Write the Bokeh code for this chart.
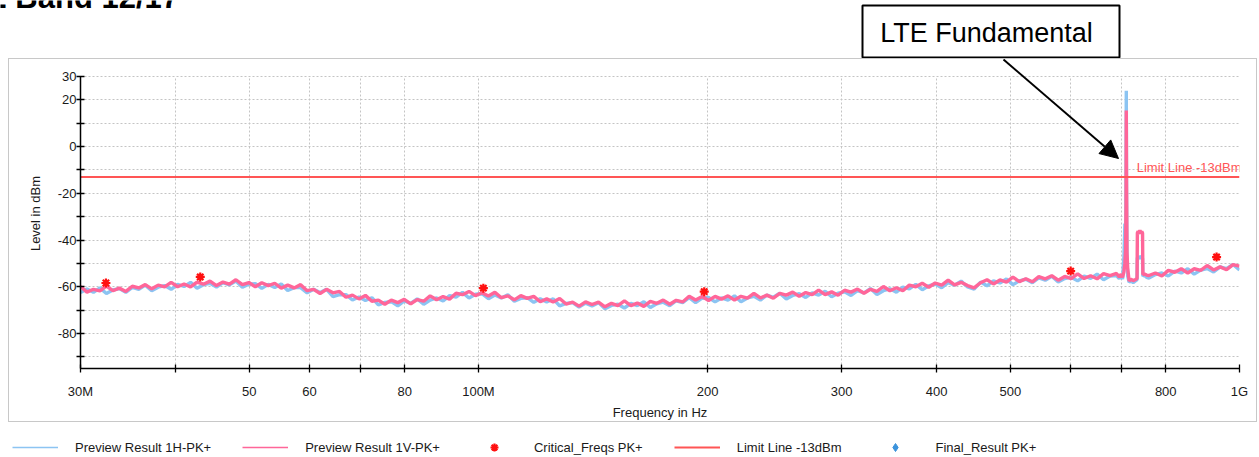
import numpy as np
from bokeh.plotting import figure
from bokeh.layouts import column
from bokeh.models import (Range1d, FixedTicker, Legend, LegendItem, Label, Span, Grid, Plot,
                          BoxAnnotation, Arrow, NormalHead, ColumnDataSource,
                          GlobalInlineStyleSheet)
from bokeh.embed import file_html
from bokeh.resources import INLINE

# ---------------- data ----------------
# sweep frequency grid (MHz) of the receiver, below and above the LTE band
sweep_lo_mhz = np.geomspace(30, 689.3, 161)
sweep_hi_mhz = np.geomspace(760.3, 1000, 15)

level_1v_lo = [
    -59.9, -62.3, -61.1, -61.8, -59.7, -61.7, -60.6, -62.0, -59.8, -60.5,
    -59.1, -60.9, -59.3, -60.1, -58.1, -60.0, -58.8, -60.1, -58.0, -58.9,
    -57.6, -59.5, -58.0, -58.9, -57.0, -59.1, -58.2, -60.0, -58.3, -59.5,
    -58.5, -60.6, -59.3, -60.5, -59.1, -61.7, -61.1, -62.9, -61.1, -62.6,
    -62.0, -64.5, -63.6, -65.2, -63.7, -66.2, -65.7, -67.5, -65.7, -66.8,
    -65.4, -67.3, -65.5, -66.2, -63.9, -65.6, -64.2, -65.3, -62.8, -63.4,
    -62.0, -63.8, -62.6, -64.0, -62.4, -64.7, -63.9, -65.6, -63.8, -65.0,
    -64.1, -66.4, -65.2, -66.5, -65.0, -67.4, -66.6, -68.3, -66.5, -67.6,
    -66.6, -68.6, -67.1, -68.1, -66.1, -68.1, -67.0, -68.4, -66.3, -67.1,
    -65.7, -67.5, -65.8, -66.5, -64.1, -65.7, -64.2, -65.9, -64.1, -65.3,
    -63.9, -65.7, -64.1, -64.9, -62.8, -64.8, -63.6, -64.9, -62.8, -63.6,
    -62.3, -64.1, -62.5, -63.4, -61.4, -63.4, -62.2, -63.6, -61.5, -62.3,
    -61.0, -62.8, -61.1, -62.0, -59.9, -61.7, -60.4, -61.7, -59.3, -60.0,
    -58.5, -60.2, -58.4, -59.3, -57.2, -59.2, -58.1, -59.5, -60.5, -58.3,
    -57.0, -58.8, -57.1, -58.0, -55.9, -57.8, -56.6, -57.9, -55.7, -56.6,
    -55.3, -57.2, -55.6, -56.5, -54.5, -56.5, -55.3, -56.6, -54.4, -55.2,
    -54.3]
level_1h_lo = [
    -62.5, -61.0, -62.4, -60.5, -62.9, -61.4, -60.8, -62.4, -60.3, -61.1,
    -59.3, -61.7, -60.2, -59.5, -61.1, -59.0, -59.9, -58.1, -60.6, -59.1,
    -58.5, -60.1, -58.2, -59.2, -57.6, -60.2, -58.9, -58.7, -60.7, -59.0,
    -60.3, -58.8, -61.6, -60.4, -60.4, -62.6, -61.1, -62.5, -61.1, -64.2,
    -63.4, -63.4, -65.7, -64.4, -65.9, -64.7, -67.8, -66.7, -66.4, -68.2,
    -66.1, -67.1, -65.2, -67.5, -65.7, -64.8, -66.1, -63.8, -64.4, -62.4,
    -64.8, -63.2, -63.0, -65.1, -63.5, -64.8, -63.4, -66.2, -65.0, -64.7,
    -66.7, -65.1, -66.5, -65.2, -68.2, -67.1, -66.8, -68.7, -67.0, -68.2,
    -66.8, -69.4, -68.0, -67.5, -69.1, -67.1, -68.1, -66.4, -68.9, -67.3,
    -66.6, -68.1, -66.0, -66.8, -64.7, -66.8, -64.9, -64.6, -66.5, -64.8,
    -65.7, -63.9, -66.4, -64.8, -64.1, -65.7, -63.6, -64.5, -62.8, -65.2,
    -63.7, -63.0, -64.6, -62.6, -63.6, -61.9, -64.3, -62.8, -62.2, -63.7,
    -61.7, -62.6, -60.8, -63.3, -61.7, -60.9, -62.3, -60.2, -60.9, -59.0,
    -61.3, -59.6, -58.8, -60.4, -58.3, -59.3, -57.6, -60.1, -61.0, -58.0,
    -59.6, -57.5, -58.4, -56.7, -59.1, -57.5, -56.8, -58.3, -56.2, -57.2,
    -55.5, -58.0, -56.5, -55.9, -57.5, -55.5, -56.4, -54.6, -57.0, -55.4,
    -55.2]

# LTE band 12/17 region (fundamental + downlink block)
peak_mhz = [695, 699, 702, 705, 707, 708.5, 709.5, 710.0, 710.5, 711.5,
            713, 716, 720, 725, 730, 733.5, 734.2, 736, 738, 740,
            742, 744, 745.8, 746.5, 750, 755]
peak_1v = [-55.8, -54.6, -56.0, -53.5, -50.0, -44.5, -25.0, 15.4, -14.5, -45.5,
           -52.0, -57.5, -56.8, -57.4, -56.9, -56.5, -37.0, -36.2, -37.4, -35.8,
           -36.9, -36.3, -37.1, -54.8, -54.5, -55.0]
peak_1h = [-56.5, -55.2, -56.8, -47.0, -33.0, -48.5, -3.0, 23.9, -20.0, -48.0,
           -55.5, -58.0, -57.6, -58.2, -57.5, -57.0, -47.8, -47.0, -48.2, -46.8,
           -47.5, -47.2, -48.0, -55.5, -55.0, -56.0]

level_1v_hi = [-55.2, -54.1, -55.4, -53.0, -53.8, -52.3, -54.1, -52.3, -53.0,
               -50.9, -52.8, -51.5, -52.7, -50.5, -51.2]
level_1h_hi = [-56.3, -54.8, -54.1, -55.4, -53.3, -54.1, -52.3, -54.6, -52.9,
               -52.2, -53.7, -51.5, -52.3, -50.5, -52.8]

crit_mhz = [32.4, 43.1, 101.5, 198, 600, 933]
crit_db = [-58.4, -55.8, -60.6, -62.1, -53.3, -47.3]

final_mhz = []
final_db = []

limit_mhz = [30, 1000]
limit_db = -13

x_ticks = [30, 40, 50, 60, 70, 80, 100, 200, 300, 400, 500, 600, 700, 800, 1000]
x_tick_labels = ["30M", "", "50", "60", "", "80", "100M", "200", "300", "400",
                 "500", "", "", "800", "1G"]
y_ticks = [-90, -80, -70, -60, -50, -40, -30, -20, -10, 0, 10, 20, 30]
y_tick_labels = ["", "-80", "", "-60", "", "-40", "", "-20", "", "0", "", "20", "30"]
y_min, y_max = -95, 30

title_text = "LTE Band 12/17"
callout_text = "LTE Fundamental"

# ---------------- page geometry ----------------
W = 1259
HEAD_H = 58          # page strip above the grey chart box
MAIN_H = 367         # grey box + x axis
LEG_H = 32           # legend row
FONT = "Liberation Sans"
FRAME_BOTTOM = 310   # y of the -95 dB line inside the main figure
px_per_db = (368 - 76) / (y_max - y_min)
y_top = y_max + (76 - HEAD_H) / px_per_db
HAS_FRAME_ALIGN = "frame_align" in Plot.properties()


def bare_figure(height, xr, yr):
    f = figure(width=W, height=height, x_range=xr, y_range=yr,
               output_backend="svg", toolbar_location=None, title=None,
               x_axis_location=None, y_axis_location=None,
               min_border_left=0, min_border_right=0, min_border_top=0,
               min_border_bottom=0, background_fill_color=None,
               border_fill_color=None, outline_line_color=None)
    f.xgrid.visible = False
    f.ygrid.visible = False
    if HAS_FRAME_ALIGN:
        f.frame_align = False
    return f


# ---------------- head strip: page title (cut) + callout ----------------
head = bare_figure(HEAD_H, Range1d(0, W), Range1d(HEAD_H, 0))
head.add_layout(Label(x=-50, y=-3, x_units="canvas", y_units="canvas",
                      text=title_text, text_font=FONT, text_font_size="31px",
                      text_font_style="bold", text_color="black",
                      text_baseline="middle"))
head.add_layout(BoxAnnotation(left=862, right=1119, top=5, bottom=57,
                              left_units="canvas", right_units="canvas",
                              top_units="canvas", bottom_units="canvas",
                              fill_color="white", fill_alpha=1,
                              line_color="black", line_alpha=1, line_width=2))
head.add_layout(Label(x=986, y=32, x_units="canvas", y_units="canvas",
                      text=callout_text, text_font=FONT, text_font_size="27px",
                      text_color="black", text_align="center",
                      text_baseline="middle"))

# ---------------- main chart ----------------
p = figure(width=W, height=MAIN_H, x_axis_type="log", title=None,
           x_range=Range1d(30, 1000), y_range=Range1d(y_min, y_top),
           output_backend="svg", toolbar_location=None,
           min_border_left=80, min_border_right=20,
           min_border_top=0, min_border_bottom=MAIN_H - FRAME_BOTTOM,
           background_fill_color=None, border_fill_color=None,
           outline_line_color=None)
if HAS_FRAME_ALIGN:
    p.frame_align = False

# grey outer box of the chart, drawn as the figure's CSS background
g = "linear-gradient(#c8c8c8, #c8c8c8)"
p.styles = {
    "background-color": "white",
    "background-image": ", ".join([g] * 4),
    "background-size": "1249px 1px, 1249px 1px, 1px 364px, 1px 364px",
    "background-position": "8px 0px, 8px 363px, 8px 0px, 1256px 0px",
    "background-repeat": "no-repeat",
}
p.stylesheets = [GlobalInlineStyleSheet(
    css="html, body { margin: 0 !important; padding: 0; overflow: hidden; background: white; }")]

xt = FixedTicker(ticks=x_ticks)
yt = FixedTicker(ticks=y_ticks)
p.xaxis.ticker = xt
p.yaxis.ticker = yt
p.xgrid.ticker = xt
p.ygrid.ticker = yt
p.yaxis.bounds = (y_min, y_max)
p.xaxis.major_label_overrides = {t: l for t, l in zip(x_ticks, x_tick_labels)}
p.yaxis.major_label_overrides = {t: l for t, l in zip(y_ticks, y_tick_labels)}

for ax in (p.xaxis, p.yaxis):
    ax.axis_line_color = "black"
    ax.axis_line_width = 1.5
    ax.major_tick_line_color = "black"
    ax.major_tick_line_width = 1.3
    ax.major_tick_in = 4
    ax.major_tick_out = 4
    ax.minor_tick_line_color = None
    ax.major_label_text_font = FONT
    ax.major_label_text_font_size = "13px"
    ax.major_label_text_color = "#1a1a1a"
    ax.axis_label_text_font = FONT
    ax.axis_label_text_font_size = "13px"
    ax.axis_label_text_font_style = "normal"
    ax.axis_label_text_color = "#1a1a1a"

p.xaxis.axis_label = "Frequency in Hz"
p.xaxis.major_label_standoff = 11
p.xaxis.axis_label_standoff = 3
p.yaxis.axis_label = "Level in dBm"
p.yaxis.major_label_standoff = 0
p.yaxis.axis_label_standoff = 12

for gr in (p.xgrid, p.ygrid):
    gr.grid_line_color = "#c4c4c4"
    gr.grid_line_dash = "2 2"
    gr.grid_line_width = 1

if "cross_bounds" in Grid.properties():
    p.xgrid.cross_bounds = (y_min, y_max)
else:
    p.add_layout(BoxAnnotation(bottom=y_max, fill_color="white", fill_alpha=1,
                               line_color=None, level="underlay"))
    p.add_layout(Span(location=0.5, location_units="canvas", dimension="width",
                      line_color="#c8c8c8", line_width=1))

freq_all = list(sweep_lo_mhz) + peak_mhz + list(sweep_hi_mhz)
src_1h = ColumnDataSource(dict(f=freq_all, v=level_1h_lo + peak_1h + level_1h_hi))
src_1v = ColumnDataSource(dict(f=freq_all, v=level_1v_lo + peak_1v + level_1v_hi))

STYLE_1H = dict(line_color="#8cc4f2")
STYLE_1V = dict(line_color="#ff6699")
STYLE_LIM = dict(line_color="#ff5555", line_width=2)
STYLE_CRIT = dict(marker="asterisk", size=9, line_color="#ff1010", line_width=2.2)
STYLE_FIN = dict(marker="diamond", size=11, fill_color="#3b93dc", line_color="#3b93dc")

p.line("f", "v", source=src_1h, line_width=3.4, **STYLE_1H)
p.line("f", "v", source=src_1v, line_width=3.4, **STYLE_1V)
p.line(limit_mhz, [limit_db, limit_db], **STYLE_LIM)
p.scatter(crit_mhz, crit_db, **STYLE_CRIT)
p.scatter(final_mhz, final_db, **STYLE_FIN)

p.add_layout(Label(x=1000, y=limit_db, text="Limit Line -13dBm",
                   text_align="right", text_baseline="bottom",
                   x_offset=2, y_offset=2, text_color="#ff5555",
                   text_font=FONT, text_font_size="13px"))

# callout arrow (starts at the callout box, points at the fundamental)
p.add_layout(Arrow(x_start=1003, y_start=1, x_end=1118, y_end=100,
                   start_units="canvas", end_units="canvas",
                   line_color="black", line_width=2,
                   end=NormalHead(size=18, fill_color="black", line_color="black")))

# ---------------- legend row ----------------
# legend keys: proxies of the series in this strip, whose ranges keep them out of view
leg = bare_figure(LEG_H, Range1d(0, 1), Range1d(0, 1))
k1h = leg.line(limit_mhz, [limit_db, limit_db], line_width=1.4, **STYLE_1H)
k1v = leg.line(limit_mhz, [limit_db, limit_db], line_width=1.4, **STYLE_1V)
klim = leg.line(limit_mhz, [limit_db, limit_db], **STYLE_LIM)
kcrit = leg.scatter(crit_mhz, crit_db, **STYLE_CRIT)
kfin = leg.scatter(crit_mhz, crit_db, **STYLE_FIN)

legend = Legend(items=[
    LegendItem(label="Preview Result 1H-PK+", renderers=[k1h]),
    LegendItem(label="Preview Result 1V-PK+", renderers=[k1v]),
    LegendItem(label="Critical_Freqs PK+", renderers=[kcrit]),
    LegendItem(label="Limit Line -13dBm", renderers=[klim]),
    LegendItem(label="Final_Result PK+", renderers=[kfin]),
], location=(12, 0), orientation="horizontal",
    glyph_width=46, glyph_height=20, label_standoff=17, spacing=31,
    padding=0, margin=0, border_line_color=None, background_fill_alpha=0,
    label_text_font=FONT, label_text_font_size="13px", label_text_color="#1a1a1a")
leg.add_layout(legend, "center")

root = column(head, p, leg, spacing=0)
open("out.html", "w").write(file_html(root, INLINE))
